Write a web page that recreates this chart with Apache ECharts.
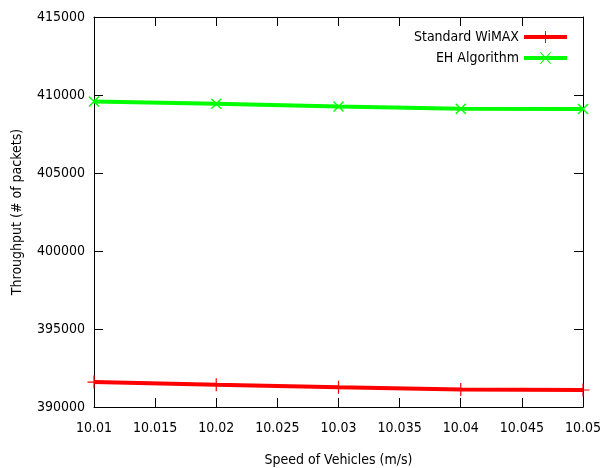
<!DOCTYPE html>
<html>
<head>
<meta charset="utf-8">
<script src="https://cdn.jsdelivr.net/npm/echarts@6/dist/echarts.min.js"></script>
<style>html,body{margin:0;padding:0;background:#fff}#c{width:600px;height:468px}</style>
</head>
<body>
<div id="c"></div>
<script>
const speeds = [10.01, 10.02, 10.03, 10.04, 10.05];
const standardWiMAX = [391600, 391420, 391260, 391120, 391090];
const ehAlgorithm = [409590, 409440, 409270, 409120, 409100];
const seriesNames = ['Standard WiMAX', 'EH Algorithm'];
const xTitle = 'Speed of Vehicles (m/s)';
const yTitle = 'Throughput (# of packets)';

const FONT = "'DejaVu Sans Condensed', 'DejaVu Sans', sans-serif";
const plusSym = 'path://M5,0 L6,0 L6,5 L11,5 L11,6 L6,6 L6,11 L5,11 L5,6 L0,6 L0,5 L5,5 Z';
const crossSym = 'path://M0,1 L1,0 L5.5,4.5 L10,0 L11,1 L6.5,5.5 L11,10 L10,11 L5.5,6.5 L1,11 L0,10 L4.5,5.5 Z';
const plusLegend = 'path://M0,4 L43,4 L43,8 L0,8 Z M21,0 L22,0 L22,12 L21,12 Z';
const crossLegend = 'path://M0,4 L43,4 L43,8 L0,8 Z M16,0.7 L16.7,0 L27,11.3 L26.3,12 Z M26.3,0 L27,0.7 L16.7,12 L16,11.3 Z';

const chart = echarts.init(document.getElementById('c'), null, {renderer: 'canvas'});
const axisLine = {show: true, lineStyle: {color: '#000', width: 1}};
const tick = {show: true, inside: true, length: 9, lineStyle: {color: '#000', width: 1}};
chart.setOption({
  animation: false,
  backgroundColor: '#fff',
  textStyle: {fontFamily: FONT},
  grid: {left: 94, right: 17, top: 17, bottom: 61, outerBoundsMode: 'none', containLabel: false},
  legend: {
    right: 28, top: 25, orient: 'vertical', align: 'right', itemGap: 7,
    itemWidth: 43, itemHeight: 12,
    textStyle: {fontFamily: FONT, fontSize: 14, color: '#000'},
    data: [
      {name: seriesNames[0], icon: plusLegend},
      {name: seriesNames[1], icon: crossLegend}
    ]
  },
  xAxis: [{
    type: 'value', min: 10.01, max: 10.05, interval: 0.005,
    name: xTitle, nameLocation: 'middle', nameGap: 46,
    nameTextStyle: {fontFamily: FONT, fontSize: 14, color: '#000'},
    axisLine: axisLine, axisTick: tick, splitLine: {show: false},
    axisLabel: {fontFamily: FONT, fontSize: 14, color: '#000', margin: 14,
      formatter: v => String(+v.toFixed(3))}
  }, {
    type: 'value', position: 'top', min: 10.01, max: 10.05, interval: 0.005,
    axisLine: axisLine, axisTick: tick, splitLine: {show: false}, axisLabel: {show: false}
  }],
  yAxis: [{
    type: 'value', min: 390000, max: 415000, interval: 5000,
    name: yTitle, nameLocation: 'middle', nameGap: 70, nameRotate: 90,
    nameTextStyle: {fontFamily: FONT, fontSize: 14, color: '#000'},
    axisLine: axisLine, axisTick: tick, splitLine: {show: false},
    axisLabel: {fontFamily: FONT, fontSize: 14, color: '#000', margin: 9,
      formatter: v => String(v)}
  }, {
    type: 'value', position: 'right', min: 390000, max: 415000, interval: 5000,
    axisLine: axisLine, axisTick: tick, splitLine: {show: false}, axisLabel: {show: false}
  }],
  series: [{
    name: seriesNames[0], type: 'line',
    data: speeds.map((s, i) => [s, standardWiMAX[i]]),
    color: '#ff0000', symbol: plusSym, symbolSize: 13, showSymbol: true,
    lineStyle: {width: 4, color: '#ff0000'}, itemStyle: {color: '#ff0000'}
  }, {
    name: seriesNames[1], type: 'line',
    data: speeds.map((s, i) => [s, ehAlgorithm[i]]),
    color: '#00ff00', symbol: crossSym, symbolSize: 11, showSymbol: true,
    lineStyle: {width: 4, color: '#00ff00'}, itemStyle: {color: '#00ff00'}
  }]
});
</script>
</body>
</html>
